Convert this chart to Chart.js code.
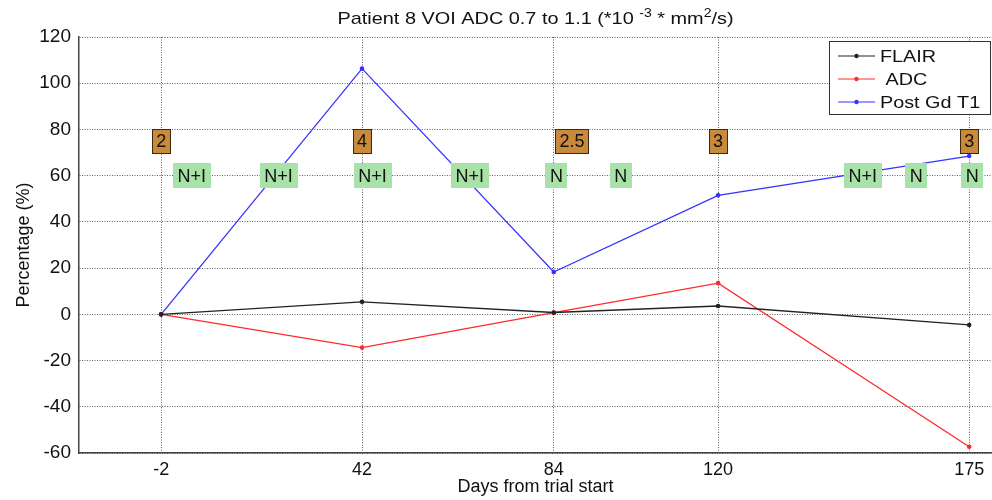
<!DOCTYPE html>
<html>
<head>
<meta charset="utf-8">
<script src="https://cdn.jsdelivr.net/npm/chart.js@4.4.0/dist/chart.umd.min.js"></script>
<style>
  html, body { margin: 0; padding: 0; background: #fff; }
  #wrap { width: 992px; height: 500px; }
</style>
</head>
<body>
<div id="wrap"><canvas id="myChart" width="992" height="500"></canvas></div>
<script>
// days from trial start (scan dates)
var days = [-2, 42, 84, 120, 175];
var flair = [0, 5.4, 0.8, 3.6, -4.6];
var adc = [0, -14.4, 0.7, 13.5, -57.3];
var postGdT1 = [0, 106.3, 18.3, 51.5, 68.5];

// orange dose boxes
var doseDays = [-2, 42, 88, 120, 175];
var doseLabels = ['2', '4', '2.5', '3', '3'];
var doseLevel = 75;

// green response boxes
var respDays = [4.7, 23.7, 44.3, 65.6, 84.6, 98.7, 151.7, 163.4, 175.7];
var respLabels = ['N+I', 'N+I', 'N+I', 'N+I', 'N', 'N', 'N+I', 'N', 'N'];
var respLevel = 60;

var yTicks = [-60, -40, -20, 0, 20, 40, 60, 80, 100, 120];

var FONT = '"Liberation Sans", Arial, sans-serif';

function pts(vals) {
    return days.map(function (d, i) { return { x: d, y: vals[i] }; });
}

// text drawn a bit wider than the font, like the stretched original
function wideText(ctx, text, x, y, sx) {
    ctx.save();
    ctx.translate(x, y);
    ctx.scale(sx, 1);
    ctx.fillText(text, 0, 0);
    ctx.restore();
    return ctx.measureText(text).width * sx;
}

function box(ctx, cx, cy, text, fill, stroke) {
    ctx.font = '18px ' + FONT;
    var w = ctx.measureText(text).width + 9;
    var h = 25;
    ctx.fillStyle = fill;
    ctx.fillRect(Math.round(cx - w / 2), Math.round(cy - h / 2), Math.round(w), h);
    if (stroke) {
        ctx.strokeStyle = stroke;
        ctx.lineWidth = 1;
        ctx.strokeRect(Math.round(cx - w / 2) + 0.5, Math.round(cy - h / 2) + 0.5, Math.round(w) - 1, h - 1);
    }
    ctx.fillStyle = '#111';
    ctx.textAlign = 'center';
    ctx.textBaseline = 'middle';
    ctx.fillText(text, cx, cy + 1);
}

var extras = {
    id: 'extras',
    afterDatasetsDraw: function (chart) {
        var ctx = chart.ctx;
        var xs = chart.scales.x, ys = chart.scales.y;
        var area = chart.chartArea;
        ctx.save();
        doseDays.forEach(function (d, i) {
            box(ctx, xs.getPixelForValue(d), ys.getPixelForValue(doseLevel), doseLabels[i], '#c98a3c', '#3a2a10');
        });
        respDays.forEach(function (d, i) {
            box(ctx, xs.getPixelForValue(d), ys.getPixelForValue(respLevel), respLabels[i], '#a9e2a9', null);
        });

        // legend box in the upper right corner
        var lx = area.right - 163, ly = area.top + 4, lw = 162, lh = 74;
        ctx.fillStyle = '#fff';
        ctx.fillRect(lx, ly, lw, lh);
        ctx.strokeStyle = '#333';
        ctx.lineWidth = 1;
        ctx.strokeRect(lx + 0.5, ly + 0.5, lw - 1, lh - 1);
        ctx.font = '16.5px ' + FONT;
        ctx.textAlign = 'left';
        ctx.textBaseline = 'middle';
        chart.data.datasets.forEach(function (ds, i) {
            var yy = ly + 15 + i * 23;
            ctx.strokeStyle = ds.borderColor;
            ctx.lineWidth = 1.2;
            ctx.beginPath();
            ctx.moveTo(lx + 9, yy);
            ctx.lineTo(lx + 46, yy);
            ctx.stroke();
            ctx.fillStyle = ds.borderColor;
            ctx.beginPath();
            ctx.arc(lx + 27.5, yy, 2.2, 0, Math.PI * 2);
            ctx.fill();
            ctx.fillStyle = '#111';
            wideText(ctx, ds.label, lx + 51, yy + 1, 1.2);
        });

        // title with superscripts, centred over the plot area
        var parts = [
            ['Patient 8 VOI ADC 0.7 to 1.1 (*10 ', false],
            ['-3', true],
            [' * mm', false],
            ['2', true],
            ['/s)', false]
        ];
        var sx = 1.17;
        var total = 0;
        parts.forEach(function (p) {
            ctx.font = (p[1] ? '12px ' : '17px ') + FONT;
            total += ctx.measureText(p[0]).width * sx;
        });
        var tx = (area.left + area.right) / 2 - total / 2;
        ctx.fillStyle = '#111';
        ctx.textBaseline = 'alphabetic';
        parts.forEach(function (p) {
            ctx.font = (p[1] ? '12px ' : '17px ') + FONT;
            tx += wideText(ctx, p[0], tx, p[1] ? 17 : 24, sx);
        });
        ctx.restore();
    }
};

var ctx = document.getElementById('myChart').getContext('2d');
var myChart = new Chart(ctx, {
    type: 'line',
    data: {
        datasets: [{
            label: 'FLAIR',
            data: pts(flair),
            borderColor: '#222222',
            backgroundColor: '#222222'
        }, {
            label: ' ADC',
            data: pts(adc),
            borderColor: '#ff2a2a',
            backgroundColor: '#ff2a2a'
        }, {
            label: 'Post Gd T1',
            data: pts(postGdT1),
            borderColor: '#3333ff',
            backgroundColor: '#3333ff'
        }]
    },
    options: {
        responsive: false,
        animation: false,
        layout: { autoPadding: false, padding: { top: 37, right: 0, left: 0, bottom: 0 } },
        elements: {
            line: { borderWidth: 1.3, tension: 0 },
            point: { radius: 2.3, borderWidth: 0, hoverRadius: 2.3 }
        },
        plugins: {
            legend: { display: false },
            title: { display: false },
            tooltip: { enabled: false }
        },
        scales: {
            x: {
                type: 'linear',
                min: -20,
                max: 180,
                afterBuildTicks: function (axis) {
                    axis.ticks = days.map(function (v) { return { value: v }; });
                },
                afterFit: function (axis) {
                    axis.height = 47;
                    axis.paddingLeft = 0;
                    axis.paddingRight = 0;
                },
                grid: { color: 'rgba(40,40,40,0.75)', drawTicks: false, lineWidth: 1 },
                border: { display: true, color: '#444', width: 1.5, dash: [1, 1.5] },
                ticks: {
                    padding: 6,
                    color: '#111',
                    font: { family: FONT, size: 18 },
                    callback: function (v) { return v; }
                },
                title: {
                    display: true,
                    text: 'Days from trial start',
                    color: '#111',
                    font: { family: FONT, size: 18 },
                    padding: { top: 0, bottom: 2 }
                }
            },
            y: {
                min: -60,
                max: 120,
                afterBuildTicks: function (axis) {
                    axis.ticks = yTicks.map(function (v) { return { value: v }; });
                },
                afterFit: function (axis) { axis.width = 79; },
                grid: { color: 'rgba(40,40,40,0.75)', drawTicks: false, lineWidth: 1 },
                border: { display: true, color: '#444', width: 1.5, dash: [1, 1.5] },
                ticks: {
                    padding: 8,
                    color: '#111',
                    font: { family: FONT, size: 19 }
                },
                title: {
                    display: true,
                    text: 'Percentage (%)',
                    color: '#111',
                    font: { family: FONT, size: 18 },
                    padding: { top: 13, bottom: 0 }
                }
            }
        }
    },
    plugins: [extras]
});
</script>
</body>
</html>
